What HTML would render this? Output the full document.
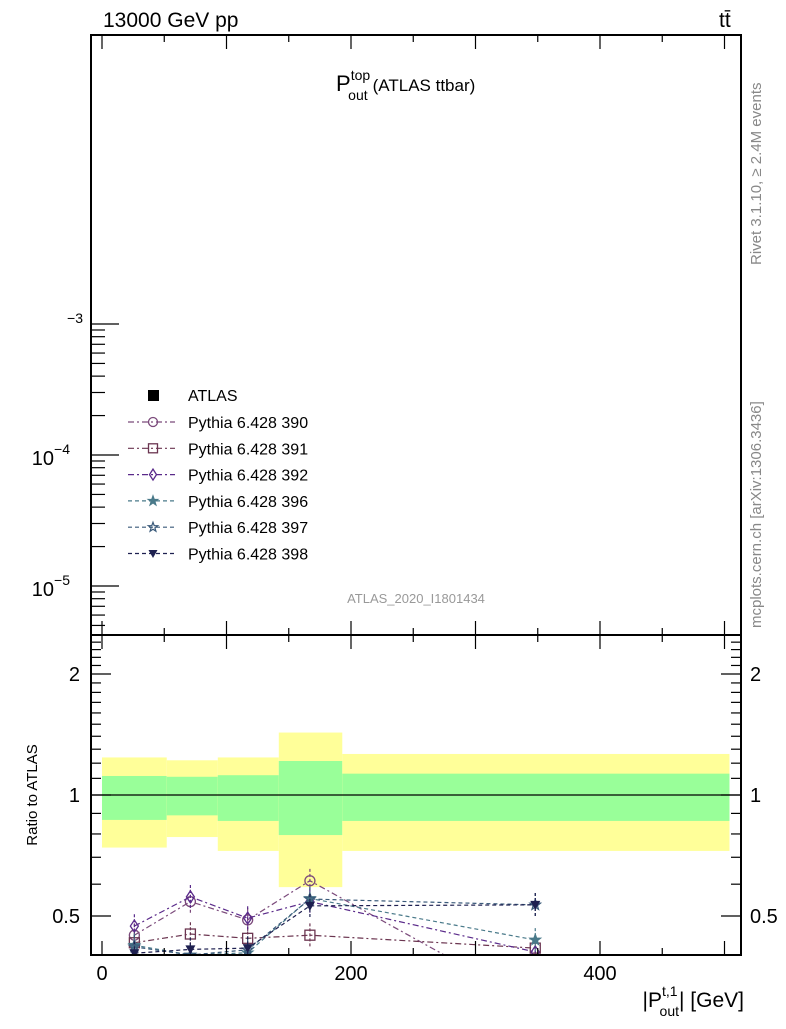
<!DOCTYPE html>
<html><head><meta charset="utf-8"><style>
body{margin:0;background:#fff;}
svg text{font-family:"Liberation Sans",sans-serif;}
</style></head><body>
<svg id="c" width="786" height="1024" viewBox="0 0 786 1024" xmlns="http://www.w3.org/2000/svg">
<rect width="786" height="1024" fill="#fff"/>
<text x="103" y="27" font-size="21">13000 GeV pp</text>
<text x="719" y="27" font-size="21">tt̄</text>
<text x="336" y="91" font-size="22">P<tspan font-size="14" dy="-11">top</tspan><tspan font-size="14" dx="-22" dy="20">out</tspan><tspan font-size="17" dx="5" dy="-9">(ATLAS ttbar)</tspan></text>
<text transform="translate(761,265) rotate(-90)" font-size="15" fill="#888">Rivet 3.1.10, ≥ 2.4M events</text>
<text transform="translate(761,628) rotate(-90)" font-size="15" fill="#888">mcplots.cern.ch [arXiv:1306.3436]</text>
<text x="416" y="603" font-size="13" fill="#999" text-anchor="middle">ATLAS_2020_I1801434</text>
<text transform="translate(37,795) rotate(-90)" font-size="15" text-anchor="middle">Ratio to ATLAS</text>
<text x="744" y="1007" font-size="21" text-anchor="end">|P<tspan font-size="14" dy="-11">t,1</tspan><tspan font-size="14" dx="-18" dy="20">out</tspan><tspan dy="-9">| [GeV]</tspan></text>
<g id="g"></g>
</svg>
<script>
const binEdges=[0,52,93,142,193,504];
const yelLo=[0.74,0.786,0.726,0.59,0.726];
const yelHi=[1.24,1.22,1.24,1.43,1.265];
const grnLo=[0.867,0.89,0.862,0.795,0.862];
const grnHi=[1.115,1.11,1.12,1.215,1.13];
const xPts=[26,71,117,167,348];
const s390=[0.448,0.543,0.489,0.612,0.30];
const s391=[0.429,0.451,0.44,0.448,0.416];
const s392=[0.472,0.558,0.494,0.543,0.407];
const s396=[0.423,0.40,0.405,0.553,0.436];
const s397=[0.419,0.40,0.412,0.551,0.533];
const s398=[0.404,0.413,0.416,0.53,0.533];
const xTicks=[0,200,400];
const rTicks=[0.5,1,2];
const L=91,R=741,T=35,MB=635,RB=955;
const X=v=>102+v*1.245;
const Y=r=>795-402*Math.log10(r);
const ns="http://www.w3.org/2000/svg";
const g=document.getElementById('g');
function el(t,a,p){const e=document.createElementNS(ns,t);for(const k in a)e.setAttribute(k,a[k]);(p||g).appendChild(e);return e;}
const defs=el('defs',{});const cp=el('clipPath',{id:'rc'},defs);el('rect',{x:L,y:MB,width:R-L,height:RB-MB},cp);
const rg=el('g',{'clip-path':'url(#rc)'});
for(let i=0;i<5;i++){
 const y1=el('rect',{x:X(binEdges[i]),y:Y(yelHi[i]),width:X(binEdges[i+1])-X(binEdges[i]),height:Y(yelLo[i])-Y(yelHi[i]),fill:'#ffff99'},rg);
 
 const g1=el('rect',{x:X(binEdges[i]),y:Y(grnHi[i]),width:X(binEdges[i+1])-X(binEdges[i]),height:Y(grnLo[i])-Y(grnHi[i]),fill:'#99ff99'},rg);
 
}
el('line',{x1:L,x2:R,y1:Y(1),y2:Y(1),stroke:'#000','stroke-width':1.2},rg);
const series=[[s390,'#7b4a7b','circle','6,3,2,3'],[s391,'#6b3550','square','6,3,2,3'],[s392,'#5a2a8a','diamond','6,3,2,3'],[s396,'#4a7a8a','starf','4,3'],[s397,'#3a5a7a','star','4,3'],[s398,'#1e2050','tri','4,3']];
function marker(par,t,x,y,c,s){
 if(t=='circle')return el('circle',{cx:x,cy:y,r:s,fill:'none',stroke:c,'stroke-width':1.3},par);
 if(t=='square')return el('rect',{x:x-s,y:y-s,width:2*s,height:2*s,fill:'none',stroke:c,'stroke-width':1.3},par);
 if(t=='diamond')return el('path',{d:`M${x},${y-s-1}L${x+s-1},${y}L${x},${y+s+1}L${x-s+1},${y}Z`,fill:'none',stroke:c,'stroke-width':1.3},par);
 if(t=='tri')return el('path',{d:`M${x-s},${y-s+1}L${x+s},${y-s+1}L${x},${y+s}Z`,fill:c},par);
 let d='';for(let k=0;k<10;k++){const a=-Math.PI/2+k*Math.PI/5,rr=k%2?s*0.45:s*1.1;d+=(k?'L':'M')+(x+rr*Math.cos(a)).toFixed(1)+','+(y+rr*Math.sin(a)).toFixed(1);}
 return el('path',{d:d+'Z',fill:t=='starf'?c:'none',stroke:c,'stroke-width':1.2},par);
}
series.forEach(([v,c,m,da],si)=>{
 const sg=el('g',{},rg);
 el('polyline',{points:v.map((r,i)=>X(xPts[i])+','+Y(r)).join(' '),fill:'none',stroke:c,'stroke-width':1.2,'stroke-dasharray':da},sg);
 v.forEach((r,i)=>{el('line',{x1:X(xPts[i]),x2:X(xPts[i]),y1:Y(r*1.07),y2:Y(r/1.07),stroke:c,'stroke-width':1.2,'stroke-dasharray':'3,2'},sg);
  const mk=marker(sg,m,X(xPts[i]),Y(r),c,5);});
});
el('rect',{x:L,y:T,width:R-L,height:MB-T,fill:'none',stroke:'#000','stroke-width':2});
el('rect',{x:L,y:MB,width:R-L,height:RB-MB,fill:'none',stroke:'#000','stroke-width':2});
for(let v=0;v<=500;v+=50){const x=X(v),big=v%100==0,l=big?14:7;
 [[T,1],[MB,-1],[MB,1],[RB,-1]].forEach(([y,d])=>el('line',{x1:x,x2:x,y1:y,y2:y+d*l,stroke:'#000','stroke-width':1.2}));}
xTicks.forEach(v=>{const t=el('text',{x:X(v),y:980,'font-size':20,'text-anchor':'middle'});t.textContent=v;});
for(let r=0.4;r<=2.5001;r+=0.1){const y=Y(r);const big=rTicks.some(t=>Math.abs(t-r)<1e-6);const l=big?20:10;
 el('line',{x1:L,x2:L+l,y1:y,y2:y,stroke:'#000','stroke-width':1.2});el('line',{x1:R,x2:R-l,y1:y,y2:y,stroke:'#000','stroke-width':1.2});}
rTicks.forEach(r=>{[[80,'end'],[750,'start']].forEach(([x,a])=>{const t=el('text',{x:x,y:Y(r)+7,'font-size':20,'text-anchor':a});t.textContent=r;});});
const Ym=e=>455-131*(e+4);
for(let e=-6;e<=-2;e++)for(let k=1;k<10;k++){const y=Ym(e+Math.log10(k));if(y<318||y>MB)continue;const l=k==1?28:14;
 el('line',{x1:L,x2:L+l,y1:y,y2:y,stroke:'#000','stroke-width':1.2});}
[[-4,'10','−4'],[-5,'10','−5']].forEach(([e,b,s])=>{const t=el('text',{x:70,y:Ym(e)+10,'font-size':20,'text-anchor':'end'});t.textContent=b;const sp=el('tspan',{'font-size':14,dy:-11},t);sp.textContent=s;});
{const t=el('text',{x:83,y:Ym(-3)-1,'font-size':14,'text-anchor':'end'});t.textContent='−3';}
const lg=el('g',{});
el('rect',{x:148,y:390,width:11,height:11,fill:'#000'},lg);
{const t=el('text',{x:188,y:401,'font-size':16},lg);t.textContent='ATLAS';}
const names=['Pythia 6.428 390','Pythia 6.428 391','Pythia 6.428 392','Pythia 6.428 396','Pythia 6.428 397','Pythia 6.428 398'];
series.forEach(([v,c,m,da],i)=>{const y=422+i*26.3;
 const e=el('g',{},lg);
 el('line',{x1:128,x2:175,y1:y,y2:y,stroke:c,'stroke-width':1.2,'stroke-dasharray':da},e);
 marker(e,m,153,y,c,4.5);
 const t=el('text',{x:188,y:y+6,'font-size':16},e);t.textContent=names[i];});
</script>
</body></html>
